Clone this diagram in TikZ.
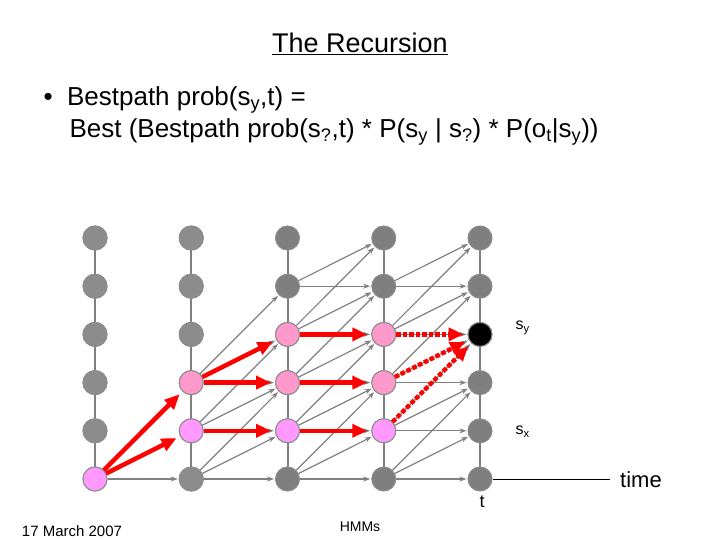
\documentclass[tikz,border=0pt]{standalone}
\usepackage{fontspec}
\setmainfont{Liberation Sans}
\usetikzlibrary{arrows.meta}
\definecolor{nodegray}{HTML}{7F7F7F}
\definecolor{lightgray}{HTML}{8C8C8C}
\definecolor{pinkA}{HTML}{FF99CC}
\definecolor{pinkB}{HTML}{FF99FF}
\begin{document}
\begin{tikzpicture}[x=1pt,y=-1pt,
  state/.style={circle,fill=nodegray,draw=gray!90,line width=1pt,minimum size=24pt,inner sep=0pt},
  trans/.style={->,>={Stealth[length=7pt,width=5pt]},gray,line width=1.2pt,shorten >=1pt},
  best/.style={->,>={Triangle[length=15pt,width=13pt]},red,line width=4.5pt,shorten >=4pt},
  guess/.style={best,dotted,line width=4.5pt}]
\useasboundingbox (0,0) rectangle (720,540);

\node (title) at (360,44) {\fontsize{27}{32}\selectfont\underline{The Recursion}};
\node[anchor=west] (bullet) at (40,100) {\fontsize{26}{31}\selectfont \textbullet\ \ Bestpath prob(s\textsubscript{y},t) =};
\node[anchor=west] (formula) at (66,132) {\fontsize{26}{31}\selectfont Best (Bestpath prob(s\textsubscript{?},t) * P(s\textsubscript{y} | s\textsubscript{?}) * P(o\textsubscript{t}|s\textsubscript{y}))};

% vertical lines
\foreach \c in {0,...,4}
  \draw[gray,line width=2pt] (95+96.25*\c,238) -- (95+96.25*\c,479);

% nodes
\foreach \c in {0,...,4}
  \foreach \r in {0,...,5}
    \node[state] (n\c\r) at (95+96.25*\c,238+48.2*\r) {};
\foreach \r in {0,...,4} \node[state,fill=lightgray] (m0\r) at (n0\r) {};
\foreach \r in {0,1,2,5} \node[state,fill=lightgray] (m1\r) at (n1\r) {};
\node[state,fill=pinkB] (p05) at (n05) {};
\node[state,fill=pinkA] (p13) at (n13) {};
\node[state,fill=pinkB] (p14) at (n14) {};
\foreach \c in {2,3} {
  \node[state,fill=pinkA] (p\c2) at (n\c2) {};
  \node[state,fill=pinkA] (p\c3) at (n\c3) {};
  \node[state,fill=pinkB] (p\c4) at (n\c4) {};
}
\node[state,fill=black] (sy) at (n42) {};

% gray transitions
\draw[trans] (n05) -- (n15);
\foreach \s/\r in {1/3,1/4,1/5,2/1,2/2,2/3,2/4,2/5,3/1,3/2,3/3,3/4,3/5} {
  \pgfmathtruncatemacro{\t}{\s+1}
  \foreach \d in {0,1,2} {
    \pgfmathtruncatemacro{\u}{\r-\d}
    \ifnum\u>-1 \draw[trans] (n\s\r) -- (n\t\u); \fi
  }
}

% best path
\draw[best] (n05) -- (n14);
\draw[best] (n05) -- (n13);
\draw[best] (n13) -- (n22);
\draw[best] (n13) -- (n23);
\draw[best] (n14) -- (n24);
\draw[best] (n22) -- (n32);
\draw[best] (n23) -- (n33);
\draw[best] (n24) -- (n34);
\draw[guess] (n32) -- (sy);
\draw[guess] (n33) -- (sy);
\draw[guess] (n34) -- (sy);

\node[anchor=west] (lsy) at (512,328) {\fontsize{16}{19}\selectfont s\textsubscript{y}};
\node[anchor=west] (lsx) at (512,432) {\fontsize{16}{19}\selectfont s\textsubscript{x}};
\coordinate (axis) at (493,479);
\node (time) at (641,480) {\fontsize{22}{26}\selectfont time};
\draw[black,line width=1pt] (axis) -- (610,479);
\node (t) at (482,502) {\fontsize{18}{21}\selectfont t};

\node (date) at (72,531) {\fontsize{15}{18}\selectfont 17 March 2007};
\node (hmms) at (360,527) {\fontsize{14}{17}\selectfont HMMs};
\end{tikzpicture}
\end{document}
